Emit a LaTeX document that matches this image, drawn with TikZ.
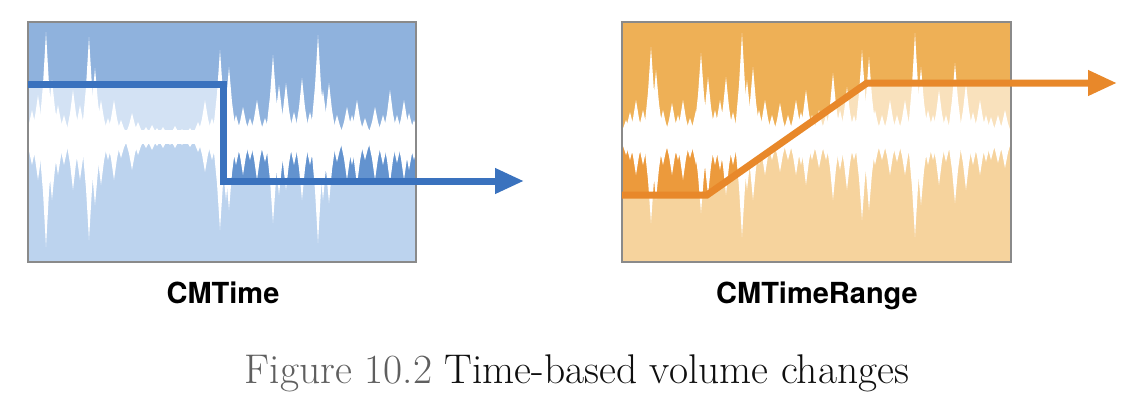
\documentclass[tikz,border=0pt]{standalone}
\usepackage{fontspec}
\newfontfamily\labelfont{TeX Gyre Heros}
\usetikzlibrary{arrows.meta}
\definecolor{bmed}{RGB}{143,178,221}
\definecolor{blight}{RGB}{188,211,238}
\definecolor{bpale}{RGB}{211,226,244}
\definecolor{bdark}{RGB}{99,147,207}
\definecolor{bline}{RGB}{58,114,190}
\definecolor{omed}{RGB}{238,176,86}
\definecolor{olight}{RGB}{246,211,157}
\definecolor{opale}{RGB}{249,225,188}
\definecolor{odark}{RGB}{236,154,60}
\definecolor{oline}{RGB}{232,136,42}
\definecolor{frame}{RGB}{138,138,138}
\definecolor{capgrey}{RGB}{95,95,95}
\definecolor{capblack}{RGB}{15,15,15}
\tikzset{
  wave/.style={fill=white},
  boxframe/.style={draw=frame,line width=2.5pt},
  volline/.style={line width=7pt,line join=miter,-{Triangle[length=29pt,width=24pt]}},
  lbl/.style={anchor=base,font=\labelfont\bfseries\fontsize{29}{34}\selectfont,text=black,inner sep=0pt},
  captxt/.style={anchor=base,font=\fontsize{41.5}{48}\selectfont\addfontfeatures{FakeBold=1.2},inner sep=0pt}
}
\newcommand\wspike[3]{%
  \fill[wave] ({#1-7.5},\wc) -- ({#1-3},{\wc+0.5*(#2-\wc)}) -- (#1,#2) -- ({#1+3},{\wc+0.5*(#2-\wc)}) -- ({#1+7.5},\wc) -- ({#1+3},{\wc+0.5*(#3-\wc)}) -- (#1,#3) -- ({#1-3},{\wc+0.5*(#3-\wc)}) -- cycle;}
\begin{document}
\begin{tikzpicture}[x=1pt,y=-1pt]
\useasboundingbox (0,0) rectangle (1146,418);
\fill[white] (0,0) rectangle (1146,418);
\def\wc{137}
% ---------- left panel ----------
\coordinate (bl) at (28,22);
\coordinate (br) at (416,262);
\begin{scope}
\clip (bl) rectangle (br);
\fill[blight] (bl) rectangle (br);
\fill[bmed] (28,22) -- (416,22) -- (416,137) -- (223,137) -- (223,84) -- (28,84) -- cycle;
\fill[bpale] (28,84) rectangle (223,137);
\fill[bdark] (223,137) rectangle (416,181);
\fill[wave] (28,130) rectangle (416,144);
\foreach \x/\t/\b in {32/110/165, 38/95/180, 46/32/247, 52/80/200, 58/105/175, 64/115/165, 73/90/190, 80/105/180, 89/37/240, 95/68/205, 101/100/185, 108/118/160, 114/100/180, 121/120/158, 132/113/170, 138/122/155, 146/127/148, 152/125/150, 157/128/146, 163/127/148, 170/130/145, 175/126/148, 182/129/145, 190/128/147, 198/122/152, 205/100/172, 212/118/160, 220/50/230, 226/80/200, 229/67/210, 236/115/165, 243/107/175, 250/118/160, 257/100/180, 265/118/162, 273/55/223, 279/85/195, 286/83/190, 294/112/165, 302/78/200, 310/112/165, 318/35/243, 323/90/200, 329/83/203, 337/115/162, 347/107/180, 352/115/165, 357/100/185, 365/118/160, 375/107/180, 383/115/165, 390/90/183, 397/115/163, 404/100/180, 409/113/170, 414/120/160}
  {\wspike{\x}{\t}{\b}}
\end{scope}
\draw[boxframe] (bl) rectangle (br);
\coordinate (b0) at (28,84);
\coordinate (b1) at (223,84);
\coordinate (b2) at (223,181);
\coordinate (btip) at (524,181);
\draw[volline,draw=bline] (b0) -- (b1) -- (b2) -- (btip);
\node[lbl] (lblA) at (223,303) {CMTime};
% ---------- right panel ----------
\coordinate (ol) at (622,22);
\coordinate (or) at (1011,262);
\begin{scope}
\clip (ol) rectangle (or);
\fill[olight] (ol) rectangle (or);
\fill[omed] (622,22) -- (1011,22) -- (1011,83) -- (867,83) -- (790,137) -- (622,137) -- cycle;
\fill[opale] (790,137) -- (867,83) -- (1011,83) -- (1011,137) -- cycle;
\fill[odark] (622,137) -- (790,137) -- (707,195) -- (622,195) -- cycle;
\fill[wave] (622,130) rectangle (1011,144);
\foreach \x/\t/\b in {626/120/155, 630/112/160, 636/100/175, 643/110/165, 651/47/223, 656/70/200, 663/110/165, 672/103/175, 678/115/160, 683/100/180, 690/118/158, 696/110/165, 701/53/213, 708/77/195, 715/110/165, 720/100/170, 726/77/195, 733/112/165, 742/33/237, 747/80/190, 753/67/200, 759/110/165, 765/100/175, 772/115/160, 780/103/172, 788/115/160, 796/100/175, 801/112/165, 806/90/185, 812/115/160, 819/110/168, 826/115/160, 833/73/200, 840/110/170, 847/87/190, 854/115/160, 862/50/220, 869/57/210, 875/110/165, 882/115/160, 890/100/175, 897/115/162, 905/100/175, 915/33/237, 921/67/205, 928/110/165, 933/115/160, 939/90/185, 946/115/162, 955/63/203, 966/83/190, 973/112/165, 980/100/175, 986/115/162, 991/117/160, 998/115/163, 1005/110/168}
  {\wspike{\x}{\t}{\b}}
\end{scope}
\draw[boxframe] (ol) rectangle (or);
\coordinate (o0) at (622,195);
\coordinate (o1) at (707,195);
\coordinate (o2) at (867,83);
\coordinate (otip) at (1117,83);
\draw[volline,draw=oline] (o0) -- (o1) -- (o2) -- (otip);
\node[lbl] (lblB) at (817,303) {CMTimeRange};
% ---------- caption ----------
\node[captxt] (cap) at (577,383) {\textcolor{capgrey}{Figure 10.2} \textcolor{capblack}{Time-based volume changes}};
\end{tikzpicture}
\end{document}
